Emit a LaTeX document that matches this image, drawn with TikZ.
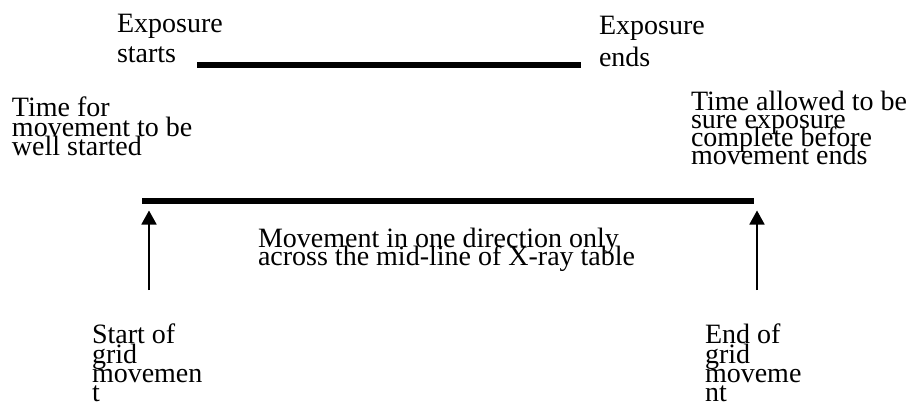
\documentclass[tikz,border=0pt]{standalone}
\usepackage{fontspec}
\setmainfont{Liberation Serif}
\usetikzlibrary{arrows.meta}
\lineskiplimit=-100pt\relax
\tikzset{
  lbl/.style={font=\fontsize{28}{#1}\selectfont, align=left, anchor=north west, inner sep=0pt, outer sep=0pt},
  thickbar/.style={line width=#1, line cap=butt},
  uparrow/.style={line width=1.8pt, -{Triangle[width=15pt,length=14pt]}}
}
\begin{document}
\begin{tikzpicture}[x=1pt,y=-1pt]
\useasboundingbox (0,0) rectangle (914,407);
% labels
\node[lbl=30] (expS) at (117,14.5) {Exposure\\starts};
\node[lbl=32] (expE) at (599,16.5) {Exposure\\ends};
\node[lbl=19.5] (timeS) at (12,97) {Time for\\movement to be\\well started};
\node[lbl=18] (timeA) at (691,91) {Time allowed to be\\sure exposure\\complete before\\movement ends};
\node[lbl=18] (move) at (258,228) {Movement in one direction only\\across the mid-line of X-ray table};
\node[lbl=19.3] (startg) at (92,324) {Start of\\grid\\movemen\\t};
\node[lbl=19.3] (endg) at (705,324) {End of\\grid\\moveme\\nt};
% bars
\coordinate (expA) at (197,65);
\coordinate (expB) at (581,65);
\coordinate (movA) at (142,201);
\coordinate (movB) at (754,201);
\draw[thickbar=6pt] (expA) -- (expB);
\draw[thickbar=6.5pt] (movA) -- (movB);
% arrows
\coordinate (sFoot) at (149,290);
\coordinate (sTip) at (149,210.5);
\coordinate (eFoot) at (757,290);
\coordinate (eTip) at (757,210.5);
\draw[uparrow] (sFoot) -- (sTip);
\draw[uparrow] (eFoot) -- (eTip);
\end{tikzpicture}
\end{document}
